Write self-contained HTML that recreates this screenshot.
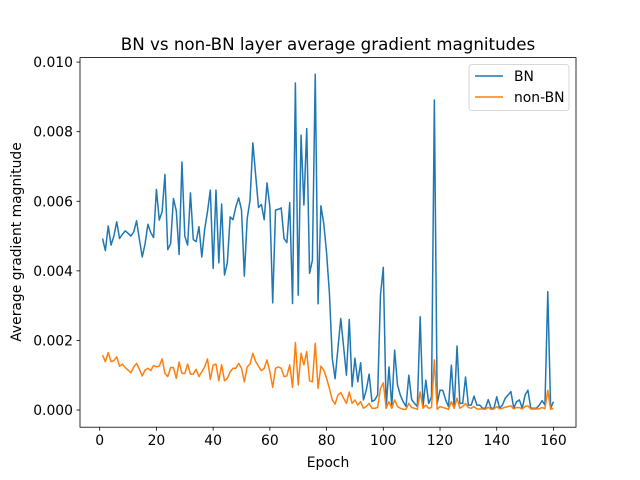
<!DOCTYPE html>
<html><head><meta charset="utf-8"><style>
body{margin:0;background:#fff}
svg{display:block;font-family:"DejaVu Sans","Liberation Sans",sans-serif}
</style></head><body>
<svg id="chart" width="640" height="480" xmlns="http://www.w3.org/2000/svg">
<rect width="640" height="480" fill="#fff"/>
<text x="328" y="50" font-size="16.7" text-anchor="middle">BN vs non-BN layer average gradient magnitudes</text>
<g id="grid"></g>
<g id="series"></g>
<rect x="80" y="57.6" width="496" height="369.6" fill="none" stroke="#000" stroke-width="0.8"/>
<g id="axes"></g>
<text x="328" y="467" font-size="13.9" text-anchor="middle">Epoch</text>
<text x="21" y="242" font-size="13.9" text-anchor="middle" transform="rotate(-90 21 242)">Average gradient magnitude</text>
<g>
<rect x="469" y="64.5" width="100" height="46" rx="3" fill="#fff" fill-opacity="0.8" stroke="#ccc" stroke-width="0.8"/>
<line x1="475" y1="76" x2="503" y2="76" stroke="#1f77b4" stroke-width="1.5"/>
<text x="514" y="81" font-size="13.9">BN</text>
<line x1="475" y1="97" x2="503" y2="97" stroke="#ff7f0e" stroke-width="1.5"/>
<text x="514" y="102" font-size="13.9">non-BN</text>
</g>
</svg>
<script>
const bnValues = [4.93,4.58,5.29,4.74,5.0,5.41,4.93,5.05,5.15,5.08,
5.0,5.12,5.44,4.9,4.4,4.78,5.34,5.1,4.96,6.34,
5.46,5.7,6.77,4.61,4.78,6.08,5.73,4.47,7.13,5.0,
4.74,6.24,4.9,4.84,5.27,4.4,5.19,5.7,6.32,4.07,
6.32,4.23,5.92,3.88,4.23,5.55,5.47,5.84,6.1,5.75,
3.85,5.5,6.03,7.68,6.75,5.82,5.91,5.47,6.53,5.84,
3.08,5.75,5.77,5.81,4.93,4.81,5.96,3.06,9.4,3.3,
7.9,5.89,8.09,3.93,4.31,9.65,3.05,5.87,5.36,4.52,
3.35,1.49,0.9,1.77,2.63,1.82,1.0,2.6,0.67,1.49,
0.81,1.36,0.29,0.57,1.03,0.24,0.29,0.43,3.3,4.1,
0.05,1.24,0.1,1.72,0.72,0.43,0.24,0.1,1.0,0.3,
0.19,0.1,2.68,0.1,0.86,0.19,0.38,8.91,0.19,0.57,
0.56,0.29,0.1,1.29,0.05,1.84,0.19,0.19,0.95,0.14,
0.14,0.40,0.14,0.14,0.05,0.05,0.30,0.05,0.05,0.38,
0.05,0.14,0.34,0.43,0.53,0.05,0.24,0.29,0.05,0.43,
0.57,0.05,0.05,0.05,0.14,0.27,0.14,3.4,0.05,0.24];
const nonBnValues = [1.58,1.39,1.65,1.39,1.42,1.53,1.26,1.32,1.22,1.15,
1.07,1.24,1.34,1.17,0.98,1.15,1.2,1.13,1.28,1.24,
1.26,1.47,1.05,0.96,1.22,1.22,0.91,1.38,1.05,1.05,
1.32,1.03,1.03,1.17,0.96,1.1,1.24,1.47,0.88,1.29,
1.32,0.84,1.3,0.84,0.91,1.1,1.2,1.2,1.34,1.2,
0.81,1.24,1.32,1.63,1.39,1.26,1.13,1.2,1.44,1.1,
0.65,1.2,1.24,1.2,0.96,0.98,1.3,0.65,1.94,0.72,
1.63,1.3,1.68,0.84,0.81,1.92,0.62,1.26,1.15,0.91,
0.62,0.29,0.17,0.43,0.5,0.34,0.19,0.52,0.19,0.29,
0.14,0.24,0.05,0.1,0.19,0.05,0.05,0.07,0.62,0.78,
0.05,0.24,0.05,0.29,0.1,0.05,0.02,0.02,0.19,0.07,
0.05,0.02,0.52,0.05,0.14,0.05,0.07,1.44,0.02,0.1,
0.07,0.05,0.02,0.24,0.05,0.34,0.05,0.1,0.19,0.07,
0.05,0.1,0.03,0.03,0.03,0.02,0.08,0.02,0.03,0.1,
0.03,0.05,0.08,0.1,0.12,0.03,0.07,0.07,0.03,0.1,
0.12,0.03,0.03,0.03,0.04,0.07,0.04,0.57,0.02,0.05];
const valueScale = 0.001;
const xTicks = [0,20,40,60,80,100,120,140,160];
const yTicks = [0,0.002,0.004,0.006,0.008,0.010];
const yTickLabels = ["0.000","0.002","0.004","0.006","0.008","0.010"];

const NS="http://www.w3.org/2000/svg";
const L=80,R=576,T=57.6,B=427.2;
const xMin=-6.95,xMax=167.95,yMin=-0.000494,yMax=0.01013;
function xs(v){return L+(v-xMin)/(xMax-xMin)*(R-L);}
function ys(v){return B-(v-yMin)/(yMax-yMin)*(B-T);}
function mk(tag,attrs,parent){const e=document.createElementNS(NS,tag);for(const k in attrs)e.setAttribute(k,attrs[k]);parent.appendChild(e);return e;}
const axes=document.getElementById('axes');
xTicks.forEach(t=>{
  const x=xs(t);
  const ln=mk('line',{x1:x,y1:B,x2:x,y2:B+3.5,stroke:'#000','stroke-width':0.8},axes);
  
  
  const tx=mk('text',{x:x,y:B+18,'font-size':13.9,'text-anchor':'middle'},axes);
  tx.textContent=String(t);
  
  
});
yTicks.forEach((t,i)=>{
  const y=ys(t);
  const ln=mk('line',{x1:L-3.5,y1:y,x2:L,y2:y,stroke:'#000','stroke-width':0.8},axes);
  
  
  const tx=mk('text',{x:L-7,y:y+5,'font-size':13.9,'text-anchor':'end'},axes);
  tx.textContent=yTickLabels[i];
  
  
});
const series=document.getElementById('series');
function line(vals,color,name){
  const pts=vals.map((v,i)=>xs(i+1).toFixed(2)+','+ys(v*valueScale).toFixed(2)).join(' ');
  const p=mk('polyline',{points:pts,fill:'none',stroke:color,'stroke-width':1.5,'stroke-linejoin':'round'},series);
  
  
}
line(bnValues,'#1f77b4','bn-line');
line(nonBnValues,'#ff7f0e','non-bn-line');
</script>
</body></html>
